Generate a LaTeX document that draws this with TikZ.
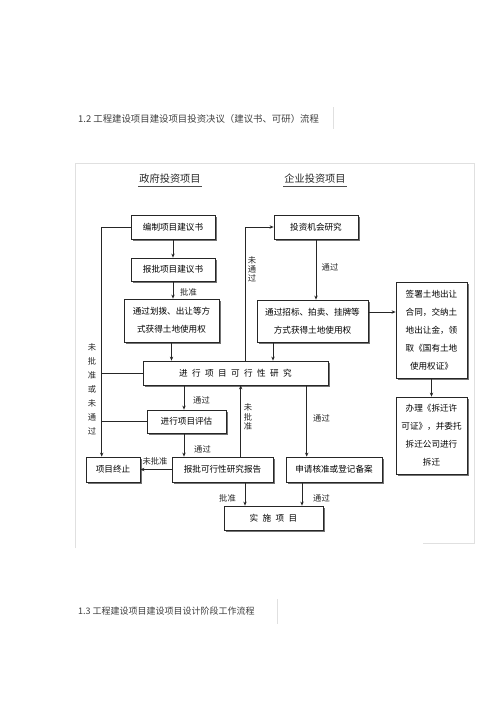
\documentclass[tikz,border=0pt]{standalone}
\usepackage{fontspec}
\setmainfont{Noto Sans CJK SC}
\usetikzlibrary{shadows,arrows.meta}
\newcommand\bxfont{\fontsize{8.6}{18}\selectfont}
\newcommand\lbfont{\fontsize{8.3}{9.6}\selectfont}
\newcommand\mygap{\hspace{4.4pt}}
\begin{document}
\begin{tikzpicture}[x=1pt,y=-1pt,
  box/.style={draw=black!85,line width=0.8pt,fill=white,inner sep=0pt,align=center,font=\bxfont,
    drop shadow={shadow xshift=1.6pt,shadow yshift=-1.6pt,fill=black!55,opacity=1}},
  ln/.style={draw=black!85,line width=0.8pt},
  arr/.style={ln,-{Stealth[length=4pt,width=3.4pt]}},
  lab/.style={inner sep=0pt,font=\lbfont,text=black!85,align=center},
  frame/.style={draw=black!12,line width=0.8pt}]
\useasboundingbox (0,0) rectangle (500,707);
\fill[white] (0,0) rectangle (500,707);

% headings
\node[anchor=west,inner sep=0pt,font=\fontsize{9.4}{10}\selectfont,text=black!75] (h1) at (78,119) {1.2 工程建设项目建设项目投资决议（建议书、可研）流程};
\node[anchor=west,inner sep=0pt,font=\fontsize{9}{10}\selectfont,text=black!75] (h2) at (78,611) {1.3 工程建设项目建设项目设计阶段工作流程};
\draw[frame] (333,107) -- (333,129);
\draw[frame] (277,599) -- (277,624);

% faint frame
\draw[frame] (75,548) -- (75,163) -- (474,163) -- (474,543) -- (423,543);

% titles
\node[inner sep=1pt,font=\fontsize{10.2}{11}\selectfont,text=black!85] (t1) at (170,179) {政府投资项目};
\node[inner sep=1pt,font=\fontsize{10.2}{11}\selectfont,text=black!85] (t2) at (315,179) {企业投资项目};
\draw[black!70,line width=0.6pt] ([yshift=-1pt]t1.south west) -- ([yshift=-1pt]t1.south east);
\draw[black!70,line width=0.6pt] ([yshift=-1pt]t2.south west) -- ([yshift=-1pt]t2.south east);

% boxes
\node[box,minimum width=84pt,minimum height=24pt] (bj) at (173,227) {编制项目建议书};
\node[box,minimum width=84pt,minimum height=23pt] (bp) at (173,269.5) {报批项目建议书};
\node[box,minimum width=95pt,minimum height=43pt] (hb) at (171.5,320.5) {通过划拨、出让等方\\式获得土地使用权};
\node[box,minimum width=84pt,minimum height=24pt] (tz) at (316,227) {投资机会研究};
\node[box,minimum width=111pt,minimum height=42pt] (zb) at (312.5,321) {通过招标、拍卖、挂牌等\\方式获得土地使用权};
\node[box,minimum width=71pt,minimum height=96pt] (r1) at (431.5,330) {签署土地出让\\合同，交纳土\\地出让金，领\\取《国有土地\\使用权证》};
\node[box,minimum width=71pt,minimum height=77pt] (r2) at (431.5,435.5) {办理《拆迁许\\可证》，并委托\\拆迁公司进行\\拆迁};
\node[box,minimum width=185pt,minimum height=24pt] (kx) at (235.5,373) {进\mygap 行\mygap 项\mygap 目\mygap 可\mygap 行\mygap 性\mygap 研\mygap 究};
\node[box,minimum width=79pt,minimum height=23pt] (pg) at (186.5,421.5) {进行项目评估};
\node[box,minimum width=54pt,minimum height=25pt] (zz) at (113,469.5) {项目终止};
\node[box,minimum width=101pt,minimum height=25pt] (bk) at (222.5,469.5) {报批可行性研究报告};
\node[box,minimum width=96pt,minimum height=25pt] (sq) at (334,469.5) {申请核准或登记备案};
\node[box,minimum width=99pt,minimum height=24pt] (ss) at (273.5,518) {实\mygap 施\mygap 项\mygap 目};

% helper x positions
\coordinate (lx) at (101.7,0);
\coordinate (ux) at (245.7,0);
\coordinate (zx) at (273,0);
\coordinate (px) at (184,0);
\coordinate (bx) at (240.7,0);
\coordinate (sx) at (306.7,0);
\coordinate (b2) at (245,0);
\coordinate (s2) at (302,0);

% connectors
\draw[arr] (bj.south) -- (bp.north);
\draw[arr] (bp.south) -- (bp.south |- hb.north);
\draw[arr] (hb.south) -- (hb.south |- kx.north);
\draw[arr] (tz.south) -- (tz.south |- zb.north);
\draw[arr] (zx |- zb.south) -- (zx |- kx.north);
\draw[arr] ([yshift=9pt]zb.east) -- ([yshift=9pt]zb.east -| r1.west);
\draw[arr] (r1.south) -- (r2.north);
\draw[arr] (ux |- kx.north) |- (tz.west);
\draw[arr] (bj.west) -- (bj.west -| lx) -- (lx |- zz.north);
\draw[ln] (kx.west) -- (kx.west -| lx);
\draw[ln] (pg.west) -- (pg.west -| lx);
\draw[arr] (px |- kx.south) -- (px |- pg.north);
\draw[arr] (px |- pg.south) -- (px |- bk.north);
\draw[arr] (bk.west) -- (zz.east);
\draw[arr] (bx |- bk.north) -- (bx |- kx.south);
\draw[arr] (sx |- kx.south) -- (sx |- sq.north);
\draw[arr] (b2 |- bk.south) -- (b2 |- ss.north);
\draw[arr] (s2 |- sq.south) -- (s2 |- ss.north);

% labels
\node[lab] (l1) at (188.5,292) {批准};
\node[lab] (l2) at (330,267) {通过};
\node[lab,font=\fontsize{8.3}{9}\selectfont] (l3) at (252,269) {未\\通\\过};
\node[lab,font=\fontsize{8.3}{14}\selectfont] (l4) at (92,389.5) {未\\批\\准\\或\\未\\通\\过};
\node[lab] (l5) at (201.5,400) {通过};
\node[lab] (l6) at (248,417) {未\\批\\准};
\node[lab] (l7) at (321.5,418) {通过};
\node[lab] (l8) at (202.5,449) {通过};
\node[lab] (l9) at (155,461) {未批准};
\node[lab] (l10) at (227.5,498) {批准};
\node[lab] (l11) at (321.5,498) {通过};
\end{tikzpicture}
\end{document}
